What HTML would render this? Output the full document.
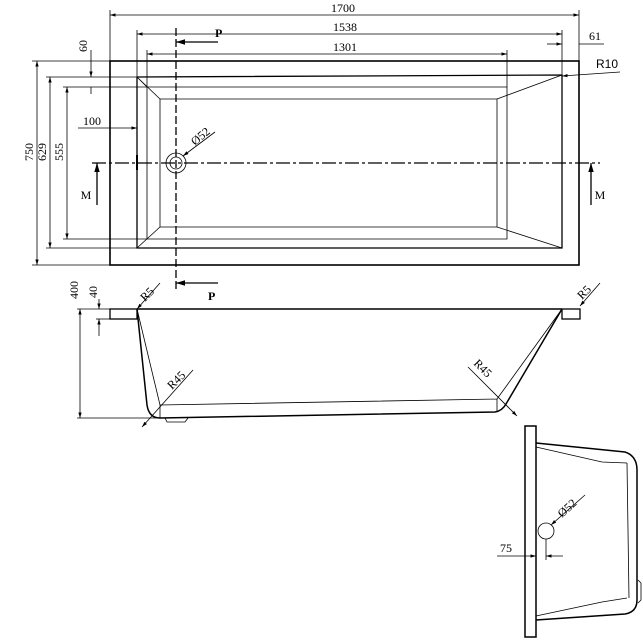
<!DOCTYPE html>
<html><head><meta charset="utf-8"><style>html,body{margin:0;padding:0;background:#fff}svg{display:block}</style></head><body>
<svg width="643" height="643" viewBox="0 0 643 643" xmlns="http://www.w3.org/2000/svg" font-family="Liberation Serif, serif" font-size="12" fill="none" stroke="#000">
<defs><marker id="a" viewBox="0 0 10 10" refX="10" refY="5" markerWidth="7" markerHeight="7" orient="auto-start-reverse"><path d="M0,2 L10,5 L0,8z" fill="#000" stroke="none"/></marker></defs>
<g stroke-width="0.8">
<rect x="110" y="61" width="469" height="204" stroke-width="1.6"/>
<path d="M137,77 L137,248 L562,248 L562,75 L137,77" stroke-width="1.3"/>
<path d="M147,87 L507,87 L507,239 L147,239 Z"/>
<path d="M160,99 L497,99 L497,227 L160,227 Z"/>
<path d="M137,77 L160,99 M137,248 L160,227 M497,99 L562,75 M497,227 L562,248 M147,87 L137,77"/>
<line x1="92" y1="163" x2="600" y2="163" stroke-width="1.3" stroke-dasharray="14,3,3,3"/>
<line x1="176" y1="28" x2="176" y2="290" stroke-width="1.3" stroke-dasharray="8,3"/>
<circle cx="176" cy="163" r="10"/><circle cx="176" cy="163" r="6"/>
<line x1="137" y1="155" x2="137" y2="170" stroke-width="2"/>
<line x1="110" y1="15" x2="579" y2="15" marker-start="url(#a)" marker-end="url(#a)"/>
<line x1="110" y1="10" x2="110" y2="61"/><line x1="579" y1="10" x2="579" y2="61"/>
<line x1="137" y1="34" x2="562" y2="34" marker-start="url(#a)" marker-end="url(#a)"/>
<line x1="137" y1="30" x2="137" y2="77"/><line x1="562" y1="30" x2="562" y2="75"/>
<line x1="147" y1="54" x2="507" y2="54" marker-start="url(#a)" marker-end="url(#a)"/>
<line x1="147" y1="50" x2="147" y2="87"/><line x1="507" y1="50" x2="507" y2="87"/>
<line x1="547" y1="44" x2="562" y2="44" marker-end="url(#a)"/><line x1="579" y1="44" x2="604" y2="44"/>
<line x1="562" y1="76" x2="620" y2="72" marker-start="url(#a)"/>
<line x1="37" y1="61" x2="37" y2="265" marker-start="url(#a)" marker-end="url(#a)"/>
<line x1="32" y1="61" x2="110" y2="61"/><line x1="32" y1="265" x2="110" y2="265"/>
<line x1="50" y1="77" x2="50" y2="248" marker-start="url(#a)" marker-end="url(#a)"/>
<line x1="46" y1="77" x2="137" y2="77"/><line x1="46" y1="248" x2="137" y2="248"/>
<line x1="67" y1="87" x2="67" y2="239" marker-start="url(#a)" marker-end="url(#a)"/>
<line x1="63" y1="87" x2="147" y2="87"/><line x1="63" y1="239" x2="147" y2="239"/>
<line x1="91" y1="50" x2="91" y2="77" marker-end="url(#a)"/><line x1="91" y1="87" x2="91" y2="94"/>
<line x1="78" y1="128" x2="110" y2="128"/><line x1="110" y1="128" x2="137" y2="128" marker-end="url(#a)"/>
<line x1="183" y1="156" x2="215" y2="132" marker-start="url(#a)"/>
<line x1="176" y1="42" x2="218" y2="42" stroke-width="1.3" marker-start="url(#a)"/>
<line x1="176" y1="283" x2="218" y2="283" stroke-width="1.3" marker-start="url(#a)"/>
<line x1="97" y1="163" x2="97" y2="205" stroke-width="1.3" marker-start="url(#a)"/>
<line x1="591" y1="163" x2="591" y2="205" stroke-width="1.3" marker-start="url(#a)"/>
<rect x="110" y="309" width="27" height="10" stroke-width="1.3"/>
<rect x="562" y="309" width="18" height="10" stroke-width="1.3"/>
<line x1="137" y1="309" x2="562" y2="309" stroke-width="1.6"/>
<path d="M137,309 L147,405 Q149,418 160,418 L495,412 Q502,411 506,404 L562,309" stroke-width="1.5"/>
<path d="M137,309 L160,405 L497,399 L562,309 M160,405 L160,418 M497,399 L497,412"/>
<path d="M165,418 L167,422 L185,422 L188,418"/>
<line x1="80" y1="309" x2="80" y2="418" marker-start="url(#a)" marker-end="url(#a)"/>
<line x1="77" y1="309" x2="110" y2="309"/><line x1="77" y1="418" x2="160" y2="418"/>
<line x1="99" y1="299" x2="99" y2="309" marker-end="url(#a)"/><line x1="99" y1="336" x2="99" y2="319" marker-end="url(#a)"/>
<line x1="96" y1="319" x2="110" y2="319"/>
<line x1="160" y1="283" x2="137" y2="309" marker-end="url(#a)"/>
<line x1="600" y1="283" x2="580" y2="306" marker-end="url(#a)"/>
<line x1="193" y1="370" x2="142" y2="427" marker-end="url(#a)"/>
<line x1="468" y1="367" x2="517" y2="416" marker-end="url(#a)"/>
<rect x="525" y="426" width="11" height="211" stroke-width="1.5"/>
<path d="M536,443 L625,452 Q637,456 637,470 L637,600 Q637,612 625,614 L536,620" stroke-width="1.5"/>
<path d="M536,447 L602,462 L627,463 M536,616 L602,602 L627,598 M627,463 L629,598"/>
<path d="M638,580 L641,583 L641,600 L638,603"/>
<circle cx="546" cy="531" r="8"/>
<line x1="551" y1="525" x2="585" y2="495" marker-start="url(#a)"/>
<line x1="546" y1="539" x2="546" y2="560"/>
<line x1="497" y1="556" x2="536" y2="556" marker-end="url(#a)"/><line x1="563" y1="556" x2="546" y2="556" marker-end="url(#a)"/>
</g>
<g fill="#000" stroke="none">
<text x="343" y="12" text-anchor="middle">1700</text>
<text x="345" y="31" text-anchor="middle">1538</text>
<text x="345" y="51" text-anchor="middle">1301</text>
<text x="595" y="40" text-anchor="middle">61</text>
<text x="596" y="68" font-family="Liberation Sans, sans-serif" font-size="12">R10</text>
<text x="92" y="125" text-anchor="middle">100</text>
<text x="215" y="37" font-weight="bold">P</text>
<text x="208" y="300" font-weight="bold">P</text>
<text x="86" y="199" text-anchor="middle">M</text>
<text x="600" y="199" text-anchor="middle">M</text>
<text transform="translate(33,152) rotate(-90)" text-anchor="middle">750</text>
<text transform="translate(46,152) rotate(-90)" text-anchor="middle">629</text>
<text transform="translate(63,152) rotate(-90)" text-anchor="middle">555</text>
<text transform="translate(87,46) rotate(-90)" text-anchor="middle">60</text>
<text transform="translate(195,146) rotate(-40)">Ø52</text>
<text transform="translate(78,290) rotate(-90)" text-anchor="middle">400</text>
<text transform="translate(97,292) rotate(-90)" text-anchor="middle">40</text>
<text transform="translate(145,302) rotate(-45)">R5</text>
<text transform="translate(582,300) rotate(-45)">R5</text>
<text transform="translate(172,390) rotate(-45)">R45</text>
<text transform="translate(473,364) rotate(45)">R45</text>
<text transform="translate(562,518) rotate(-42)">Ø52</text>
<text x="506" y="552" text-anchor="middle">75</text>
</g>
</svg>
</body></html>
